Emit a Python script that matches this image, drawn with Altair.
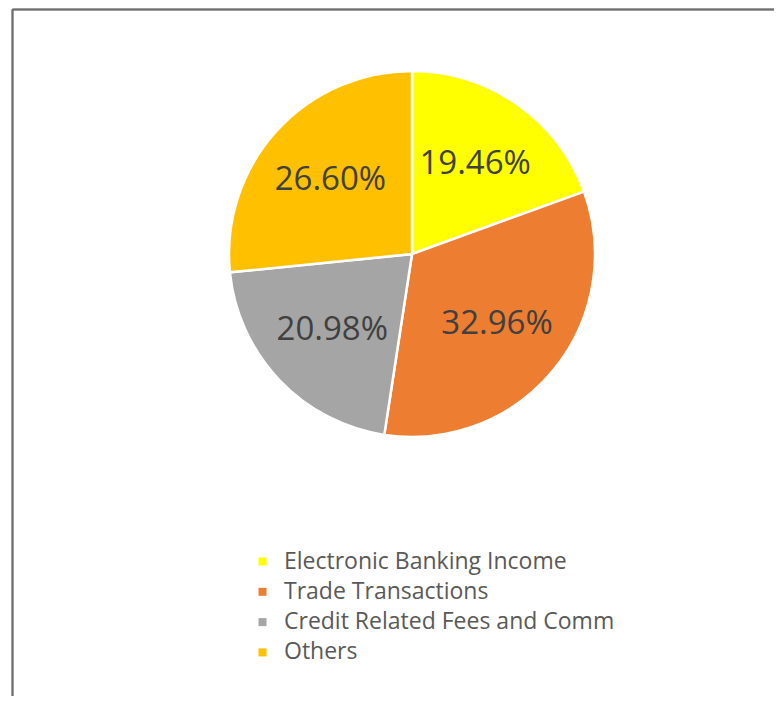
import altair as alt
import pandas as pd

categories = ["Electronic Banking Income", "Trade Transactions", "Credit Related Fees and Comm", "Others"]
values = [19.46, 32.96, 20.98, 26.60]
colors = ["#FFFF00", "#ED7D31", "#A5A5A5", "#FFC000"]

df = pd.DataFrame({"category": categories, "value": values, "idx": list(range(len(categories)))})

CX, CY, R = 404, 246, 183

base = alt.Chart(df).encode(
    theta=alt.Theta("value:Q", stack=True),
    order=alt.Order("idx:Q"),
)

pie = base.mark_arc(x=CX, y=CY, outerRadius=R, stroke="white", strokeWidth=2.5).encode(
    color=alt.Color(
        "category:N",
        scale=alt.Scale(domain=categories, range=colors),
        sort=categories,
        legend=alt.Legend(
            title=None,
            orient="none",
            legendX=243,
            legendY=542,
            symbolType="square",
            symbolSize=64,
            symbolStrokeWidth=0,
            labelFont="Open Sans",
            labelFontSize=23,
            labelColor="#595959",
            labelOffset=10,
            rowPadding=6.3,
            padding=0,
            labelLimit=500,
        ),
    )
)

labels = base.transform_calculate(
    label="format(datum.value, '.2f') + '%'"
).mark_text(
    x=CX, y=CY, radius=110, font="Open Sans", fontSize=33, color="#404040",
    align="center", baseline="middle"
).encode(text="label:N")

border_left = alt.Chart(df).mark_rule(color="#6f6f6f", strokeWidth=1.5).encode(
    x=alt.value(4.5), y=alt.value(1.5), y2=alt.value(700)
)
border_top = alt.Chart(df).mark_rule(color="#6f6f6f", strokeWidth=1.5).encode(
    x=alt.value(4.5), x2=alt.value(800), y=alt.value(1.5)
)

chart = alt.layer(border_left, border_top, pie, labels).properties(
    width=766, height=688, padding=0, autosize=alt.AutoSizeParams(type="none")
).configure_view(stroke=None)

chart.save("out.html", embed_options={"renderer": "svg", "actions": False})
